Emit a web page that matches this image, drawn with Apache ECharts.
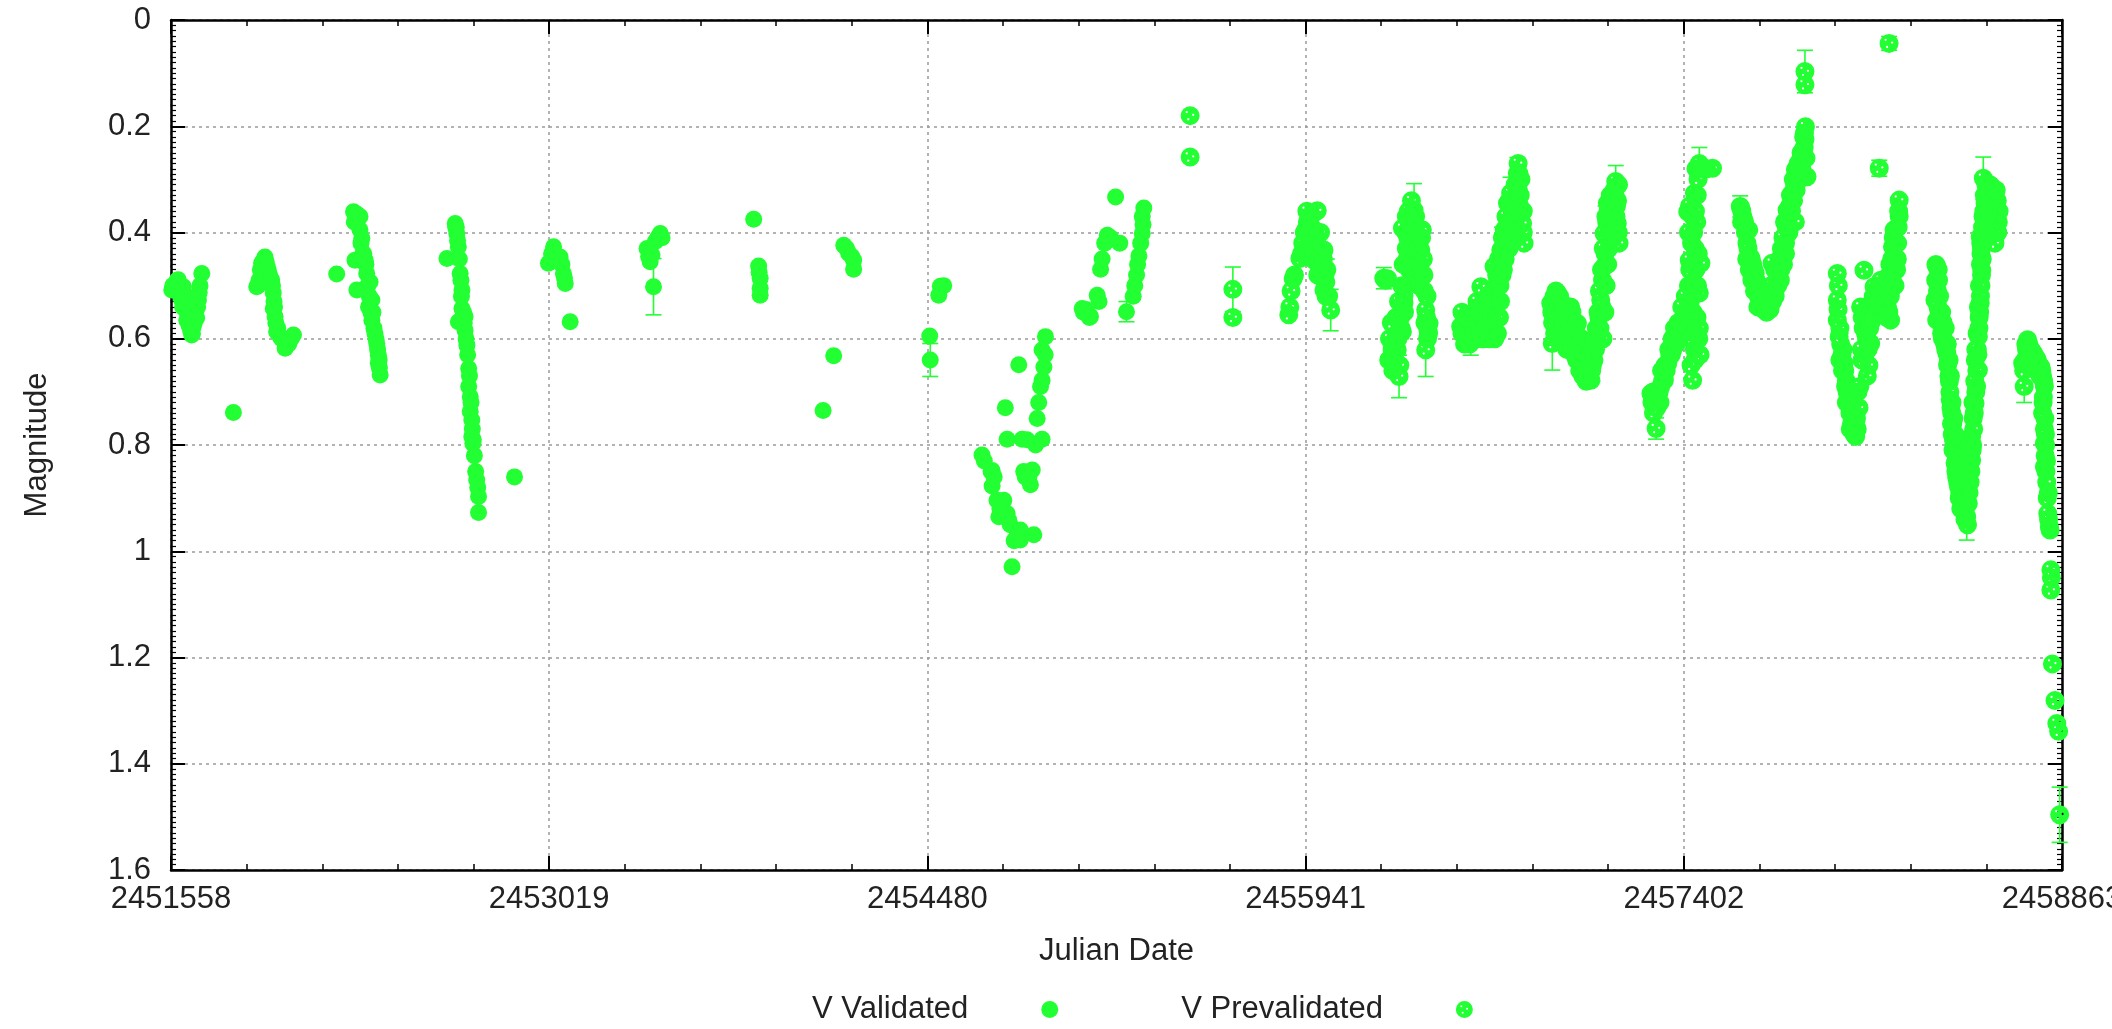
<!DOCTYPE html>
<html><head><meta charset="utf-8">
<script src="https://cdn.jsdelivr.net/npm/echarts@6/dist/echarts.min.js"></script>
<style>html,body{margin:0;padding:0;background:#fff}#c{width:2112px;height:1029px}</style>
</head><body><div id="c"></div>
<script>
// ---- data (Julian Date, V magnitude) ----
const valJD=[2451561,2451568,2451578,2451586,2451593,2451599,2451606,2451610,2451613,2451619,2451619,2451624,2451628,2451631,2451634,2451638,2451638,2451644,2451648,2451653,2451657,2451661,2451664,2451667,2451677,2451799,
2451889,2451898,2451903,2451908,2451921,2451926,2451934,2451938,2451947,2451950,2451953,2451953,2451956,2451960,2451963,2451966,2451978,2451992,2451999,2452013,2452031,2452198,
2452263,2452276,2452288,2452288,2452295,2452269,2452308,2452303,2452314,2452276,2452327,2452334,2452321,2452334,2452338,2452346,2452353,2452359,2452359,2452366,2452363,2452350,
2452624,2452656,2452660,2452662,2452668,2452675,2452678,2452682,2452682,2452668,2452694,2452688,2452694,2452698,2452701,2452708,2452708,2452714,2452714,2452720,2452720,2452724,2452726,2452739,2452746,2452746,2452885,
2453016,2453028,2453036,2453048,2453061,2453068,2453074,2453078,2453081,2453100,
2453397,2453403,2453409,2453416,2453422,2453429,2453438,2453448,2453455,2453809,2453828,2453830,2453834,2453834,2453834,2454077,2454118,2454157,2454168,2454176,2454188,2454195,2454195,2454489,2454491,2454524,2454530,2454543,
2454691,2454726,2454730,2454730,2454749,2454756,2454768,2454775,2454781,2454788,2454788,2454794,2454807,2454828,2454833,2454839,2454839,2454846,2454852,2454858,2454865,2454878,2454885,2454891,2454904,2454917,2454923,2454923,2454923,2454930,2454936,
2455078,2455088,2455097,2455103,2455110,2455136,2455143,2455149,2455175,2455188,2455207,2455223,2455249,2455275,2455288,2455297,2455310,2455310,2455313,2455316,
2451565,2451582,2451596,2451603,2451616,2451641,2451651,2451670,
2451894,2451912,2451917,2451930,2451943,2451958,2451970,2451985,2452005,2452022,
2452266,2452282,2452292,2452299,2452311,2452318,2452324,2452330,2452342,2452356,2452362,
2452658,2452665,2452672,2452680,2452685,2452691,2452704,2452711,2452717,2452722,2452730,2452735,2452743,
2454700,2454738,2454760,2454800,2454815,2454872,2454898,2454910,2454935,
2455083,2455093,2455106,2455155,2455165,2455281,2455292,2455304];
const valMag=[0.508,0.500,0.495,0.489,0.510,0.527,0.502,0.530,0.545,0.521,0.565,0.550,0.575,0.540,0.585,0.558,0.593,0.577,0.570,0.550,0.561,0.540,0.527,0.513,0.477,0.739,
0.502,0.490,0.470,0.458,0.446,0.455,0.471,0.480,0.489,0.500,0.514,0.543,0.530,0.558,0.570,0.587,0.595,0.602,0.618,0.610,0.593,0.478,
0.361,0.365,0.370,0.395,0.411,0.452,0.452,0.440,0.477,0.508,0.493,0.527,0.540,0.565,0.550,0.590,0.609,0.631,0.646,0.668,0.655,0.600,
0.449,0.383,0.390,0.402,0.427,0.477,0.490,0.508,0.543,0.568,0.558,0.550,0.584,0.600,0.612,0.656,0.690,0.709,0.737,0.753,0.784,0.797,0.790,0.866,0.897,0.927,0.860,
0.458,0.440,0.427,0.450,0.446,0.460,0.477,0.485,0.496,0.568,
0.430,0.445,0.455,0.442,0.502,0.417,0.410,0.402,0.410,0.375,0.463,0.475,0.486,0.505,0.518,0.735,0.632,0.424,0.430,0.439,0.445,0.452,0.469,0.595,0.640,0.518,0.501,0.500,
0.819,0.850,0.848,0.877,0.904,0.935,0.920,0.904,0.730,0.789,0.929,0.941,1.029,0.965,0.649,0.960,0.979,0.789,0.850,0.860,0.790,0.875,0.847,0.969,0.750,0.690,0.678,0.789,0.621,0.653,0.596,
0.543,0.550,0.549,0.555,0.558,0.518,0.530,0.469,0.405,0.410,0.333,0.420,0.549,0.520,0.480,0.444,0.402,0.370,0.385,0.354,
0.500,0.490,0.520,0.540,0.530,0.590,0.560,0.500,
0.500,0.455,0.470,0.465,0.490,0.540,0.580,0.600,0.605,0.600,
0.380,0.370,0.420,0.440,0.460,0.500,0.520,0.550,0.580,0.620,0.640,
0.390,0.415,0.450,0.520,0.560,0.570,0.630,0.670,0.720,0.770,0.820,0.850,0.880,
0.830,0.860,0.920,0.950,0.980,0.860,0.800,0.720,0.630,
0.550,0.545,0.560,0.450,0.420,0.500,0.460,0.420];

const preJD=[2455495,2455495,2455660,2455660,
2455876,2455893,2455919,2455941,2455954,2455958,2455967,2455973,2455978,2455986,2455993,2455999,2455999,2456003,2456012,2456012,2456019,2456023,2456038,
2456243,2456258,2456269,2456278,2456288,2456295,2456302,2456308,2456315,2456315,2456321,2456321,2456323,2456328,2456333,2456341,2456348,2456353,2456360,2456360,2456368,2456373,2456378,2456386,2456392,2456392,2456400,2456405,2456405,2456412,2456414,2456418,
2456540,2456548,2456558,2456568,2456579,2456579,2456588,2456598,2456603,2456608,2456618,2456618,2456628,2456638,2456643,2456648,2456656,2456658,2456668,2456669,2456676,2456682,2456682,2456688,2456695,2456698,2456701,2456708,2456715,2456718,2456721,2456728,2456733,2456733,2456738,2456746,2456753,2456759,2456759,2456768,2456773,2456779,2456785,
2456888,2456894,2456901,2456914,2456918,2456928,2456940,2456948,2456958,2456965,2456973,2456978,2456991,2456998,2457004,2457010,2457017,2457023,2457030,2457036,2457038,2457043,2457049,2457055,2457061,2457068,2457074,2457078,2457081,2457088,2457094,2457098,2457094,2457101,2457107,2457113,2457118,2457128,2457133,2457139,2457145,2457152,
2457275,2457283,2457295,2457301,2457313,2457327,2457340,2457348,2457359,2457368,2457378,2457391,2457403,2457417,2457417,2457423,2457424,2457430,2457430,2457433,2457436,2457436,2457438,2457443,2457443,2457449,2457449,2457449,2457453,2457455,2457462,2457462,2457462,2457468,2457513,
2457620,2457626,2457633,2457646,2457653,2457659,2457668,2457678,2457685,2457693,2457704,2457713,2457718,2457724,2457733,2457743,2457749,2457753,2457758,2457768,2457775,2457782,2457788,2457795,2457801,2457808,2457820,2457826,2457833,2457833,2457846,2457853,2457858,2457865,2457868,2457870,2457870,2457870,2457872,2457878,
2458157,2458195,
2457995,2457995,2457998,2457995,2458002,2458008,2458013,2458021,2458027,2458033,2458040,2458047,2458053,2458059,2458066,2458072,2458079,2458085,2458091,2458098,2458104,2458111,2458111,2458117,2458124,2458130,2458137,2458148,2458163,2458173,2458178,2458189,2458195,2458201,2458208,2458214,2458218,2458227,2458234,2458234,
2458372,2458379,2458379,2458386,2458388,2458398,2458405,2458418,2458424,2458428,2458431,2458434,2458437,2458441,2458444,2458450,2458456,2458458,2458463,2458468,2458475,2458488,2458495,2458501,2458508,2458514,2458514,2458518,2458520,2458527,2458528,2458533,2458536,2458540,2458540,2458543,2458547,2458550,2458553,2458550,2458547,2458558,2458559,2458566,2458573,2458592,2458598,2458604,2458604,2458610,2458617,
2458711,2458717,2458723,2458730,2458743,2458756,2458768,2458782,2458788,2458788,2458795,2458795,2458795,2458798,2458795,2458801,2458808,2458811,2458814,2458820,2458820,2458826,2458836,2458843,2458850,2458854,
2455880,2455898,2455925,2455936,2455948,2455962,2455970,2455983,2455990,2456007,2456016,2456030,2455946,
2456250,2456262,2456275,2456283,2456298,2456305,2456310,2456318,2456326,2456330,2456336,2456345,2456352,2456356,2456364,2456370,2456381,2456389,2456396,2456408,2456416,
2456545,2456553,2456563,2456573,2456584,2456593,2456613,2456623,2456633,2456653,2456663,2456673,2456679,2456686,2456692,2456704,2456711,2456724,2456741,2456750,2456763,2456776,2456782,2456766,2456755,2456690,2456700,
2456892,2456905,2456910,2456922,2456933,2456945,2456953,2456962,2456970,2456984,2456995,2457001,2457007,2457014,2457020,2457027,2457033,2457040,2457046,2457052,2457058,2457064,2457071,2457076,2457084,2457091,2457104,2457110,2457122,2457136,2457142,2457149,2457086,
2457279,2457289,2457307,2457320,2457334,2457354,2457363,2457373,2457385,2457397,2457410,2457427,2457440,2457446,2457452,2457458,2457445,2457428,2457457,2457470,2457490,2457420,
2457623,2457630,2457640,2457650,2457663,2457673,2457681,2457690,2457698,2457708,2457728,2457738,2457762,2457772,2457779,2457785,2457791,2457798,2457805,2457814,2457830,2457840,2457850,2457862,2457874,2457863,
2457999,2458005,2458017,2458024,2458030,2458037,2458044,2458050,2458056,2458063,2458069,2458075,2458082,2458088,2458095,2458101,2458108,2458114,2458120,2458127,2458134,2458142,2458155,2458168,2458183,2458192,2458198,2458205,2458211,2458222,2458230,2458224,
2458375,2458382,2458384,2458392,2458395,2458401,2458410,2458414,2458421,2458426,2458430,2458436,2458439,2458442,2458447,2458453,2458460,2458466,2458472,2458478,2458484,2458490,2458498,2458504,2458511,2458516,2458522,2458524,2458530,2458534,2458538,2458542,2458545,2458548,2458552,2458555,2458549,2458556,2458561,2458563,2458569,2458578,2458585,2458595,2458601,2458607,2458613,2458620,
2458715,2458720,2458726,2458735,2458750,2458762,2458775,2458785,2458791,2458792,2458797,2458800,2458804,2458806,2458817,2458822,
2456895,2456903,2456908,2456920,2456930,2456937,2456950,2456960,2456968,2456980,2456988,2457000,2457012,2457025,2457090,2457097,2457102,2457108,2457112,2457118,2457124,2457130,2457140,2457146,2457150,
2456545,2456555,2456565,2456575,2456590,2456600,2456612,2456625,2456640,2456650,2456660,2456672,2456684,2456694,2456705,2456712,2456720,2456727,2456735,2456744,2456752,2456762,2456770,2456782,
2456265,2456272,2456290,2456300,2456312,2456318,2456330,2456338,2456350,2456358,2456366,2456376,2456384,2456398,2456402,2456410,
2457285,2457298,2457310,2457316,2457330,2457344,2457357,2457366,2457380,2457394,2457408,2457420,2457425,2457432,2457439,2457447,2457454,2457460,2457465,
2457625,2457637,2457645,2457655,2457665,2457675,2457688,2457700,2457711,2457722,2457735,2457745,2457755,2457765,2457777,2457787,2457795,2457803,2457811,2457818,2457825,2457836,2457844,2457855,2457867,
2458090,2458102,2458110,2458118,2458125,2458135,2458145,2458152,2458160,2458170,2458180,2458186,2458194,2458200,2458207,2458213,2458220,2458228,2458232,2458005,2458015,2458030,2458045,2458060,
2458376,2458385,2458390,2458398,2458404,2458412,2458420,2458427,2458432,2458438,2458445,2458450,2458456,2458462,2458470,2458480,2458488,2458494,2458500,2458506,2458512,2458519,2458526,2458530,2458535,2458540,2458544,2458548,2458552,2458558,2458565,2458572,2458580,2458590,2458600,2458609,2458615,
2458728,2458740,2458752,2458765,2458778,2458790,2458799,2458803,2458810,
2455885,2455930,2455950,2455965,2455975,2455988,2456000,2456010,2456020];
const preMag=[0.180,0.258,0.507,0.560,
0.555,0.487,0.449,0.395,0.376,0.420,0.414,0.452,0.400,0.359,0.427,0.483,0.400,0.460,0.433,0.508,0.493,0.470,0.546,
0.486,0.487,0.640,0.660,0.600,0.621,0.671,0.560,0.587,0.392,0.533,0.520,0.550,0.400,0.450,0.470,0.420,0.490,0.358,0.433,0.400,0.460,0.500,0.433,0.395,0.483,0.510,0.546,0.621,0.600,0.585,0.571,
0.577,0.580,0.590,0.575,0.596,0.560,0.580,0.570,0.530,0.590,0.571,0.502,0.550,0.580,0.530,0.570,0.590,0.520,0.580,0.464,0.500,0.590,0.533,0.480,0.433,0.460,0.410,0.395,0.370,0.390,0.345,0.340,0.326,0.420,0.360,0.370,0.330,0.289,0.310,0.350,0.300,0.383,0.420,
0.533,0.609,0.520,0.514,0.540,0.530,0.609,0.560,0.550,0.540,0.570,0.590,0.571,0.600,0.640,0.620,0.621,0.660,0.659,0.670,0.630,0.678,0.650,0.640,0.620,0.596,0.560,0.580,0.527,0.490,0.464,0.440,0.402,0.370,0.345,0.400,0.330,0.360,0.320,0.304,0.383,0.420,
0.703,0.700,0.769,0.710,0.690,0.678,0.646,0.630,0.621,0.600,0.596,0.571,0.555,0.540,0.361,0.452,0.350,0.650,0.600,0.500,0.678,0.370,0.550,0.620,0.326,0.590,0.470,0.280,0.560,0.500,0.580,0.514,0.270,0.458,0.279,
0.351,0.360,0.376,0.420,0.395,0.446,0.460,0.477,0.508,0.500,0.520,0.530,0.510,0.536,0.520,0.458,0.514,0.470,0.500,0.480,0.490,0.460,0.440,0.420,0.358,0.400,0.326,0.340,0.282,0.380,0.300,0.264,0.280,0.220,0.213,0.097,0.122,0.225,0.201,0.295,
0.279,0.044,
0.477,0.527,0.545,0.565,0.596,0.610,0.630,0.646,0.690,0.700,0.720,0.715,0.740,0.753,0.784,0.770,0.730,0.540,0.560,0.471,0.590,0.565,0.670,0.650,0.609,0.530,0.502,0.510,0.490,0.520,0.500,0.540,0.480,0.565,0.427,0.395,0.500,0.450,0.370,0.339,
0.527,0.464,0.565,0.490,0.550,0.590,0.600,0.627,0.640,0.680,0.715,0.730,0.740,0.760,0.791,0.834,0.860,0.820,0.878,0.890,0.904,0.850,0.935,0.910,0.870,0.828,0.784,0.800,0.750,0.722,0.640,0.690,0.620,0.659,0.596,0.560,0.533,0.500,0.471,0.440,0.408,0.370,0.298,0.345,0.320,0.314,0.330,0.340,0.420,0.360,0.380,
0.646,0.690,0.610,0.602,0.620,0.630,0.640,0.653,0.670,0.740,0.690,0.770,0.797,0.820,0.841,0.850,0.929,0.940,0.954,1.035,1.073,1.212,1.281,1.324,1.339,1.496,
0.540,0.480,0.440,0.400,0.380,0.370,0.400,0.440,0.460,0.470,0.480,0.520,0.360,
0.490,0.640,0.620,0.640,0.600,0.650,0.580,0.550,0.500,0.430,0.410,0.380,0.450,0.370,0.420,0.480,0.470,0.410,0.450,0.560,0.590,
0.590,0.570,0.585,0.590,0.570,0.590,0.580,0.540,0.560,0.550,0.510,0.540,0.480,0.450,0.500,0.440,0.420,0.380,0.340,0.310,0.320,0.360,0.400,0.290,0.360,0.560,0.480,
0.550,0.530,0.560,0.520,0.550,0.590,0.575,0.560,0.550,0.580,0.610,0.620,0.600,0.645,0.640,0.670,0.640,0.660,0.660,0.620,0.600,0.580,0.550,0.510,0.470,0.430,0.380,0.360,0.340,0.330,0.350,0.400,0.540,
0.720,0.710,0.700,0.680,0.660,0.630,0.610,0.610,0.585,0.565,0.550,0.530,0.400,0.430,0.380,0.440,0.640,0.580,0.300,0.280,0.280,0.400,
0.355,0.370,0.400,0.430,0.450,0.470,0.490,0.520,0.510,0.535,0.530,0.500,0.470,0.450,0.430,0.410,0.380,0.390,0.360,0.330,0.310,0.290,0.300,0.250,0.260,0.290,
0.500,0.580,0.620,0.660,0.680,0.700,0.740,0.760,0.720,0.760,0.750,0.700,0.690,0.620,0.580,0.550,0.600,0.620,0.580,0.550,0.520,0.530,0.500,0.510,0.520,0.510,0.460,0.450,0.410,0.420,0.390,0.470,
0.490,0.510,0.540,0.570,0.560,0.600,0.610,0.620,0.650,0.670,0.700,0.760,0.780,0.810,0.800,0.850,0.870,0.900,0.920,0.880,0.900,0.920,0.950,0.890,0.850,0.810,0.770,0.740,0.700,0.660,0.630,0.580,0.550,0.520,0.480,0.450,0.420,0.390,0.360,0.330,0.310,0.330,0.310,0.350,0.380,0.400,0.340,0.360,
0.660,0.640,0.620,0.610,0.625,0.635,0.650,0.660,0.710,0.680,0.750,0.800,0.870,0.900,0.960,1.050,
0.570,0.590,0.510,0.580,0.600,0.570,0.620,0.600,0.620,0.630,0.640,0.660,0.670,0.680,0.600,0.550,0.500,0.460,0.430,0.400,0.370,0.400,0.370,0.340,0.310,
0.550,0.610,0.560,0.610,0.550,0.600,0.550,0.600,0.545,0.600,0.560,0.600,0.560,0.530,0.470,0.450,0.410,0.430,0.380,0.400,0.350,0.270,0.330,0.360,
0.600,0.570,0.560,0.530,0.500,0.460,0.370,0.360,0.340,0.390,0.370,0.430,0.460,0.480,0.570,0.520,
0.740,0.730,0.720,0.660,0.650,0.620,0.600,0.580,0.570,0.540,0.520,0.500,0.470,0.420,0.460,0.360,0.330,0.600,0.630,
0.380,0.380,0.450,0.470,0.490,0.510,0.540,0.540,0.545,0.550,0.545,0.530,0.520,0.500,0.470,0.460,0.440,0.380,0.350,0.360,0.300,0.320,0.270,0.250,0.240,
0.640,0.630,0.600,0.610,0.570,0.560,0.550,0.530,0.520,0.545,0.530,0.560,0.550,0.520,0.490,0.470,0.450,0.420,0.360,0.640,0.660,0.720,0.770,0.780,
0.460,0.470,0.520,0.550,0.570,0.580,0.610,0.640,0.670,0.720,0.750,0.780,0.820,0.840,0.860,0.920,0.940,0.900,0.870,0.840,0.800,0.720,0.680,0.620,0.590,0.540,0.500,0.460,0.430,0.410,0.380,0.350,0.360,0.340,0.320,0.320,0.400,
0.630,0.640,0.650,0.660,0.670,0.720,0.780,0.830,0.890,
0.510,0.420,0.400,0.390,0.430,0.480,0.440,0.450,0.520];

// error bars (JD, magnitude, uncertainty)
const errJD=[2453422,2454491,2455249,2455660,2456038,2456243,2456302,2456360,2456405,2456579,2456733,2456759,2456894,2457030,2457139,2457295,2457462,2457870,2457870,2458157,2458195,2458559,2458495,2458717,2458854,2456023,2456668,2457049,2457733,2458040,2456310,2456615,2456700,2457100,2457433,2457620,2458008,2458604];
const errMag=[0.502,0.640,0.549,0.507,0.546,0.486,0.671,0.358,0.621,0.596,0.326,0.289,0.609,0.659,0.304,0.769,0.270,0.097,0.225,0.279,0.044,0.298,0.935,0.690,1.496,0.470,0.580,0.650,0.520,0.720,0.580,0.550,0.410,0.370,0.500,0.351,0.610,0.340];
const errSize=[0.053,0.031,0.019,0.042,0.039,0.020,0.040,0.050,0.050,0.035,0.030,0.030,0.050,0.030,0.030,0.020,0.030,0.040,0.025,0.015,0.013,0.040,0.044,0.030,0.052,0.020,0.025,0.030,0.020,0.025,0.020,0.020,0.020,0.020,0.020,0.020,0.020,0.030];

// axis settings
const X_MIN=2451558, X_MAX=2458863, X_STEP=1461;
const Y_MIN=0, Y_MAX=1.6, Y_STEP=0.2;

const GREEN='#22ff33';
const FONT='"Liberation Sans", Arial, Helvetica, sans-serif';
const preSymbol='path://M10,0A10,10,0,1,1,10,20A10,10,0,1,1,10,0ZM6.4,5A1.2,1.2,0,1,0,6.4,7.4A1.2,1.2,0,1,0,6.4,5ZM13.2,8A1.2,1.2,0,1,0,13.2,10.4A1.2,1.2,0,1,0,13.2,8ZM8,12.6A1.2,1.2,0,1,0,8,15A1.2,1.2,0,1,0,8,12.6Z';

const chart=echarts.init(document.getElementById('c'),null,{renderer:'canvas'});
const lineS={color:'#000',width:2.5};
const txt={fontSize:31,color:'#222',fontFamily:FONT};
const grid={show:true,lineStyle:{color:'#9a9a9a',width:1.5,type:[3,4]}};

chart.setOption({
  animation:false,
  backgroundColor:'#fff',
  grid:{left:171,top:20,width:1891,height:850,containLabel:false,outerBoundsMode:'none'},
  legend:{left:812,top:994,padding:0,align:'right',itemWidth:153,itemHeight:17,itemGap:123,
    selectedMode:false,data:['V Validated','V Prevalidated'],textStyle:txt},
  xAxis:[
    {type:'value',min:X_MIN,max:X_MAX,interval:X_STEP,position:'bottom',
     name:'Julian Date',nameLocation:'middle',nameGap:66,nameTextStyle:txt,
     axisLine:{show:true,onZero:false,lineStyle:lineS},
     axisTick:{show:true,inside:true,length:14,lineStyle:{color:'#000',width:2}},
     minorTick:{show:true,splitNumber:5,length:6,lineStyle:{color:'#000',width:1.5}},
     axisLabel:Object.assign({margin:14,showMinLabel:true,showMaxLabel:true,hideOverlap:false,
       formatter:function(v){return String(Math.round(v));}},txt),
     splitLine:grid},
    {type:'value',min:X_MIN,max:X_MAX,interval:X_STEP,position:'top',
     axisLine:{show:true,onZero:false,lineStyle:lineS},
     axisTick:{show:true,inside:true,length:14,lineStyle:{color:'#000',width:2}},
     minorTick:{show:true,splitNumber:5,length:6,lineStyle:{color:'#000',width:1.5}},
     axisLabel:{show:false},splitLine:{show:false}}
  ],
  yAxis:[
    {type:'value',min:Y_MIN,max:Y_MAX,interval:Y_STEP,inverse:true,position:'left',
     name:'Magnitude',nameLocation:'middle',nameGap:118,nameRotate:90,nameTextStyle:txt,
     axisLine:{show:true,onZero:false,lineStyle:lineS},
     axisTick:{show:true,inside:true,length:14,lineStyle:{color:'#000',width:2}},
     minorTick:{show:true,splitNumber:20,length:5,lineStyle:{color:'#000',width:1.2}},
     axisLabel:Object.assign({margin:20},txt),
     splitLine:grid},
    {type:'value',min:Y_MIN,max:Y_MAX,interval:Y_STEP,inverse:true,position:'right',
     axisLine:{show:true,onZero:false,lineStyle:lineS},
     axisTick:{show:true,inside:true,length:14,lineStyle:{color:'#000',width:2}},
     minorTick:{show:true,splitNumber:20,length:5,lineStyle:{color:'#000',width:1.2}},
     axisLabel:{show:false},splitLine:{show:false}}
  ],
  series:[
    {type:'custom',name:'errors',xAxisIndex:0,yAxisIndex:0,clip:false,silent:true,
     data:errJD.map((x,i)=>[x,errMag[i],errSize[i]]),
     encode:{x:0,y:1},
     renderItem:function(params,api){
       const x=api.value(0),y=api.value(1),e=api.value(2);
       const hi=api.coord([x,y-e]),lo=api.coord([x,y+e]);
       const w=8,st={stroke:GREEN,lineWidth:1.6};
       return {type:'group',children:[
         {type:'line',shape:{x1:hi[0],y1:hi[1],x2:lo[0],y2:lo[1]},style:st},
         {type:'line',shape:{x1:hi[0]-w,y1:hi[1],x2:hi[0]+w,y2:hi[1]},style:st},
         {type:'line',shape:{x1:lo[0]-w,y1:lo[1],x2:lo[0]+w,y2:lo[1]},style:st}
       ]};
     }},
    {type:'scatter',name:'V Validated',xAxisIndex:0,yAxisIndex:0,clip:false,
     symbol:'circle',symbolSize:17,itemStyle:{color:GREEN,opacity:1},
     data:valJD.map((x,i)=>[x,valMag[i]])},
    {type:'scatter',name:'V Prevalidated',xAxisIndex:0,yAxisIndex:0,clip:false,
     symbol:preSymbol,symbolSize:19,itemStyle:{color:GREEN,opacity:1},
     data:preJD.map((x,i)=>[x,preMag[i]])}
  ]
});
</script></body></html>
